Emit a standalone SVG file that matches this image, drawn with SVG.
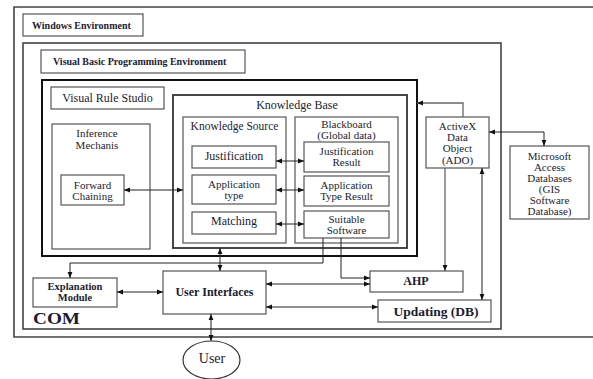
<svg xmlns="http://www.w3.org/2000/svg" width="593" height="379" viewBox="0 0 593 379">
<defs>
<style>
.bx{fill:#fff;stroke:#555;stroke-width:1.2}
.thick{fill:none;stroke:#111;stroke-width:2}
.fr{fill:none;stroke:#444;stroke-width:1.6}
.t{font-family:"Liberation Serif","Times New Roman",serif;font-size:12px;fill:#1c1c30;text-anchor:middle}
.s{font-size:11px}
.b{font-weight:bold}
.ln{fill:none;stroke:#222;stroke-width:1}
.lg{fill:none;stroke:#666;stroke-width:1.3}
</style>
<marker id="ah" viewBox="0 0 10 10" refX="10" refY="5" markerWidth="6" markerHeight="6" orient="auto-start-reverse" markerUnits="userSpaceOnUse">
<path d="M0,1 L10,5 L0,9 z" fill="#111"/>
</marker>
</defs>
<rect width="593" height="379" fill="#fff"/>
<g id="windows">
<path class="fr" d="M600,7 H14 V337 H600"/>
<rect class="bx" x="23" y="14" width="120" height="22"/>
<text class="t b" x="32" y="28.5" style="text-anchor:start;font-size:10px">Windows Environment</text>
</g>
<g id="com">
<rect class="fr" x="23" y="43" width="478" height="286"/>
<text class="t b" x="33" y="324" style="text-anchor:start;font-size:17px" textLength="47" lengthAdjust="spacingAndGlyphs">COM</text>
</g>
<g id="vbpe">
<rect class="bx" x="41" y="50" width="204" height="23"/>
<text class="t b" x="53" y="65" style="text-anchor:start;font-size:10px">Visual Basic Programming Environment</text>
</g>
<g id="vbbox">
<rect class="thick" x="42" y="80" width="375" height="176"/>
</g>
<g id="vrs">
<rect class="bx" x="51" y="87" width="113" height="22"/>
<text class="t" x="107.5" y="102">Visual Rule Studio</text>
</g>
<g id="inference">
<rect class="bx" x="52" y="124" width="98" height="125"/>
<text class="t s" x="97" y="137">Inference</text>
<text class="t s" x="97" y="148.5">Mechanis</text>
</g>
<g id="forward">
<rect class="bx" x="61" y="175" width="63" height="30"/>
<text class="t s" x="92.5" y="188.5">Forward</text>
<text class="t s" x="92.5" y="200">Chaining</text>
</g>
<g id="kb">
<rect class="thick" x="173" y="95" width="234" height="153" style="stroke:#333;stroke-width:1.8"/>
<text class="t" x="297" y="108.5">Knowledge Base</text>
</g>
<g id="ks">
<rect class="bx" x="183" y="117" width="103" height="126"/>
<text class="t" x="234.5" y="129.5" style="font-size:11.5px">Knowledge Source</text>
</g>
<g id="blackboard">
<rect class="bx" x="295" y="117" width="103" height="126"/>
<text class="t s" x="346.5" y="128">Blackboard</text>
<text class="t s" x="346.5" y="139">(Global data)</text>
</g>
<g id="justification">
<rect class="bx" x="192" y="146" width="84" height="22"/>
<text class="t" x="234" y="160">Justification</text>
</g>
<g id="apptype">
<rect class="bx" x="192" y="175" width="84" height="29"/>
<text class="t s" x="234" y="188">Application</text>
<text class="t s" x="234" y="199">type</text>
</g>
<g id="matching">
<rect class="bx" x="192" y="212" width="84" height="22"/>
<text class="t" x="234" y="225">Matching</text>
</g>
<g id="jresult">
<rect class="bx" x="304" y="142" width="85" height="30"/>
<text class="t s" x="346.5" y="155">Justification</text>
<text class="t s" x="346.5" y="166">Result</text>
</g>
<g id="atresult">
<rect class="bx" x="304" y="176" width="85" height="30"/>
<text class="t s" x="346.5" y="189">Application</text>
<text class="t s" x="346.5" y="200">Type Result</text>
</g>
<g id="suitable">
<rect class="bx" x="304" y="211" width="85" height="27"/>
<text class="t s" x="346.5" y="223">Suitable</text>
<text class="t s" x="346.5" y="234">Software</text>
</g>
<g id="ado">
<rect class="bx" x="426" y="117" width="63" height="51"/>
<text class="t s" x="457.5" y="130">ActiveX</text>
<text class="t s" x="457.5" y="141">Data</text>
<text class="t s" x="457.5" y="152">Object</text>
<text class="t s" x="457.5" y="163.5">(ADO)</text>
</g>
<g id="msaccess">
<rect class="bx" x="510" y="146" width="79" height="73"/>
<text class="t s" x="549.5" y="159.5">Microsoft</text>
<text class="t s" x="549.5" y="170.5">Access</text>
<text class="t s" x="549.5" y="181.5">Databases</text>
<text class="t s" x="549.5" y="192.5">(GIS</text>
<text class="t s" x="549.5" y="203.5">Software</text>
<text class="t s" x="549.5" y="214.5">Database)</text>
</g>
<g id="explanation">
<rect class="bx" x="33" y="278" width="84" height="29"/>
<text class="t b" x="75" y="290" style="font-size:10.5px">Explanation</text>
<text class="t b" x="75" y="301" style="font-size:10.5px">Module</text>
</g>
<g id="ui">
<rect class="bx" x="163" y="271" width="103" height="43"/>
<text class="t b" x="214.5" y="295.5">User Interfaces</text>
</g>
<g id="ahp">
<rect class="bx" x="370" y="271" width="93" height="21"/>
<text class="t b" x="416" y="285">AHP</text>
</g>
<g id="updating">
<rect class="bx" x="378" y="300" width="113" height="22"/>
<text class="t b" x="436" y="315.5" style="font-size:13.5px">Updating (DB)</text>
</g>
<g id="user">
<ellipse cx="211.5" cy="360" rx="28.5" ry="19" fill="#fff" stroke="#333" stroke-width="1.2"/>
<text class="t" x="212" y="362.5" style="font-size:14px">User</text>
</g>
<g id="connectors">
<path class="ln" d="M276,161 H304" marker-start="url(#ah)" marker-end="url(#ah)"/>
<path class="ln" d="M276,190 H304" marker-start="url(#ah)" marker-end="url(#ah)"/>
<path class="ln" d="M276,224 H304" marker-start="url(#ah)" marker-end="url(#ah)"/>
<path class="ln" d="M124,190 H183" marker-start="url(#ah)" marker-end="url(#ah)"/>
<path class="lg" d="M463,117 V103 H417" marker-end="url(#ah)"/>
<path class="ln" d="M489,132 H544 V146" marker-start="url(#ah)" marker-end="url(#ah)"/>
<path class="ln" d="M323,238 V263 H70 V278" marker-end="url(#ah)"/>
<path class="ln" d="M341,238 V278 H370" marker-end="url(#ah)"/>
<path class="ln" d="M117,292 H163" marker-start="url(#ah)" marker-end="url(#ah)"/>
<path class="ln" d="M220,248 V271" marker-start="url(#ah)" marker-end="url(#ah)"/>
<path class="ln" d="M266,284 H370" marker-start="url(#ah)" marker-end="url(#ah)"/>
<path class="ln" d="M266,307 H378" marker-start="url(#ah)" marker-end="url(#ah)"/>
<path class="lg" d="M445,168 V271" marker-end="url(#ah)"/>
<path class="ln" d="M482,300 V168" marker-start="url(#ah)" marker-end="url(#ah)"/>
<path class="ln" d="M211,314 V341" marker-start="url(#ah)" marker-end="url(#ah)"/>
</g>
</svg>
